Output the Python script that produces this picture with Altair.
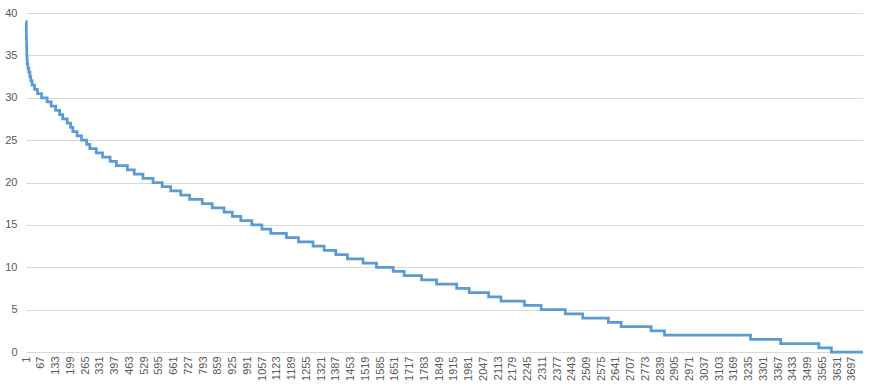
import altair as alt
import pandas as pd

# Step levels (value) and the first category index where each level begins
levels = [39, 37, 36, 35, 34.5, 34, 33.5, 33, 32.5, 32, 31.5, 31, 30.5, 30,
          29.5, 29, 28.5, 28, 27.5, 27, 26.5, 26, 25.5, 25, 24.5, 24, 23.5, 23,
          22.5, 22, 21.5, 21, 20.5, 20, 19.5, 19, 18.5, 18, 17.5, 17, 16.5, 16,
          15.5, 15, 14.5, 14, 13.5, 13, 12.5, 12, 11.5, 11, 10.5, 10, 9.5, 9,
          8.5, 8, 7.5, 7, 6.5, 6, 5.5, 5, 4.5, 4, 3.5, 3, 2.5, 2, 1.5, 1, 0.5, 0]
starts = [1, 2, 3, 4, 5, 6, 9, 13, 18, 22, 28, 39, 52, 70,
          95, 113, 133, 151, 165, 185, 200, 210, 229, 249, 272, 286, 315, 343,
          377, 405, 454, 485, 524, 569, 610, 648, 693, 733, 789, 834, 887, 924,
          962, 1011, 1056, 1096, 1166, 1220, 1285, 1335, 1387, 1439, 1509, 1569, 1644, 1693,
          1771, 1838, 1928, 1984, 2071, 2126, 2231, 2306, 2414, 2492, 2607, 2664, 2798, 2858,
          3243, 3378, 3549, 3605]
last_index = 3746
last_value = 0
x_ticks = list(range(1, 3698, 66))

df = pd.DataFrame({"idx": starts + [last_index], "val": levels + [last_value]})

FONT = "Liberation Sans"
GREY = "#595959"
GRID = "#d9d9d9"

chart = alt.Chart(df).mark_line(
    interpolate="step-after", color="#5b9bd5", strokeWidth=2.75
).encode(
    x=alt.X("idx:Q",
            scale=alt.Scale(domain=[0.5, last_index + 0.5], nice=False, zero=False),
            axis=alt.Axis(values=x_ticks, format="d", labelAngle=-90, labelOverlap=False,
                          grid=False, ticks=False, domain=True, domainColor=GRID,
                          labelColor=GREY, labelFont=FONT, labelFontSize=11,
                          labelPadding=4, title=None, labelFlush=False)),
    y=alt.Y("val:Q",
            scale=alt.Scale(domain=[0, 40], nice=False),
            axis=alt.Axis(values=[0, 5, 10, 15, 20, 25, 30, 35, 40], grid=True,
                          gridColor=GRID, ticks=False, domain=False,
                          labelColor=GREY, labelFont=FONT, labelFontSize=11,
                          labelPadding=9, title=None)),
).properties(
    width=837, height=339,
    autosize=alt.AutoSizeParams(type="none"),
    padding={"left": 26, "top": 13, "right": 10, "bottom": 37},
    background="white",
).configure_view(stroke=None)

chart.save("out.html", embed_options={"renderer": "svg", "actions": False})
